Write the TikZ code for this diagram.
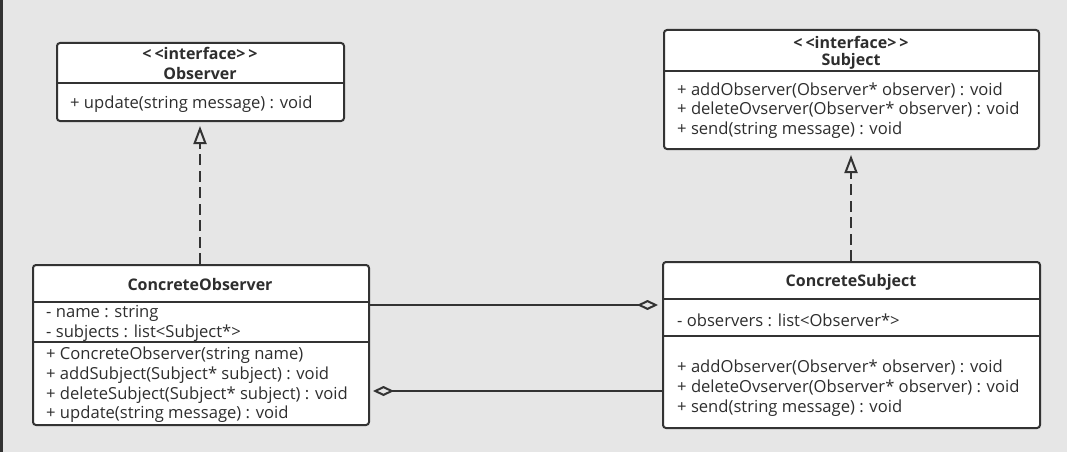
\documentclass[tikz,border=0pt]{standalone}
\usepackage{fontspec}
\setmainfont{Open Sans}
\usetikzlibrary{arrows.meta}
\definecolor{bg}{HTML}{E6E6E6}
\definecolor{ln}{HTML}{333333}
\definecolor{tx}{HTML}{2E2E2E}
\newcommand{\ltlt}{<\kern3pt<}
\newcommand{\gtgt}{>\kern3pt>}
\tikzset{
  classbox/.style={draw=ln, line width=2pt, fill=white, rounded corners=3pt, anchor=north west, inner sep=0pt},
  divider/.style={draw=ln, line width=2pt},
  member/.style={anchor=west, inner sep=0pt, text=tx, font=\fontsize{16.6}{18}\selectfont},
  titletext/.style={anchor=center, inner sep=0pt, text=tx, font=\fontsize{16}{18}\selectfont\bfseries},
  realize/.style={draw=ln, line width=2.4pt, dash pattern=on 11pt off 5.5pt, -{Triangle[open, length=18pt, width=13pt, line width=2pt]}},
  aggregate/.style={draw=ln, line width=2pt, {Diamond[open, length=21pt, width=10pt, line width=2pt]}-},
}
\begin{document}
\begin{tikzpicture}[x=1pt,y=-1pt]
\useasboundingbox (0,0) rectangle (1067,452);
\fill[bg] (0,0) rectangle (1067,452);
\draw[ln, line width=2.5pt] (1.25,0) -- (1.25,452);

% Observer interface
\node[classbox, minimum width=287pt, minimum height=78pt] (obs) at (56,42) {};
\draw[divider] (obs.west |- 0,83) -- (obs.east |- 0,83);
\node[titletext] (obst1) at (200,53) {\ltlt interface\gtgt};
\node[titletext] (obst2) at (200,73) {Observer};
\node[member] (obsm1) at (70,104) {+ update(string message) : void};

% Subject interface
\node[classbox, minimum width=375pt, minimum height=119pt] (sub) at (663,29) {};
\draw[divider] (sub.west |- 0,71) -- (sub.east |- 0,71);
\node[titletext] (subt1) at (851,42) {\ltlt interface\gtgt};
\node[titletext] (subt2) at (851,61) {Subject};
\node[member] (subm1) at (677,91) {+ addObserver(Observer* observer) : void};
\node[member] (subm2) at (677,110) {+ deleteOvserver(Observer* observer) : void};
\node[member] (subm3) at (677,130) {+ send(string message) : void};

% ConcreteObserver
\node[classbox, minimum width=336pt, minimum height=160pt] (cobs) at (32,264) {};
\draw[divider] (cobs.west |- 0,302) -- (cobs.east |- 0,302);
\draw[divider] (cobs.west |- 0,342) -- (cobs.east |- 0,342);
\node[titletext] (cobst) at (200,284) {ConcreteObserver};
\node[member] (cobsa1) at (46,313) {- name : string};
\node[member] (cobsa2) at (46,333) {- subjects : list<Subject*>};
\node[member] (cobsm1) at (46,355) {+ ConcreteObserver(string name)};
\node[member] (cobsm2) at (46,375) {+ addSubject(Subject* subject) : void};
\node[member] (cobsm3) at (46,395) {+ deleteSubject(Subject* subject) : void};
\node[member] (cobsm4) at (46,414) {+ update(string message) : void};

% ConcreteSubject
\node[classbox, minimum width=377pt, minimum height=166pt] (csub) at (662,261) {};
\draw[divider] (csub.west |- 0,299) -- (csub.east |- 0,299);
\draw[divider] (csub.west |- 0,336) -- (csub.east |- 0,336);
\node[titletext] (csubt) at (851,282) {ConcreteSubject};
\node[member] (csuba1) at (677,320) {- observers : list<Observer*>};
\node[member] (csubm1) at (677,368) {+ addObserver(Observer* observer) : void};
\node[member] (csubm2) at (677,388) {+ deleteOvserver(Observer* observer) : void};
\node[member] (csubm3) at (677,408) {+ send(string message) : void};

% connectors
\draw[realize, shorten >=4pt] (cobs.north -| 200,0) -- (obs.south -| 200,0);
\draw[realize, shorten >=5pt] (csub.north -| 851,0) -- (sub.south -| 851,0);
\coordinate (aggA) at (csub.west |- 0,305);
\coordinate (aggB) at (cobs.east |- 0,305);
\draw[aggregate, shorten <=4pt] (aggA) -- (aggB);
\coordinate (aggC) at (cobs.east |- 0,391);
\coordinate (aggD) at (csub.west |- 0,391);
\draw[aggregate, shorten <=3pt] (aggC) -- (aggD);
\end{tikzpicture}
\end{document}
